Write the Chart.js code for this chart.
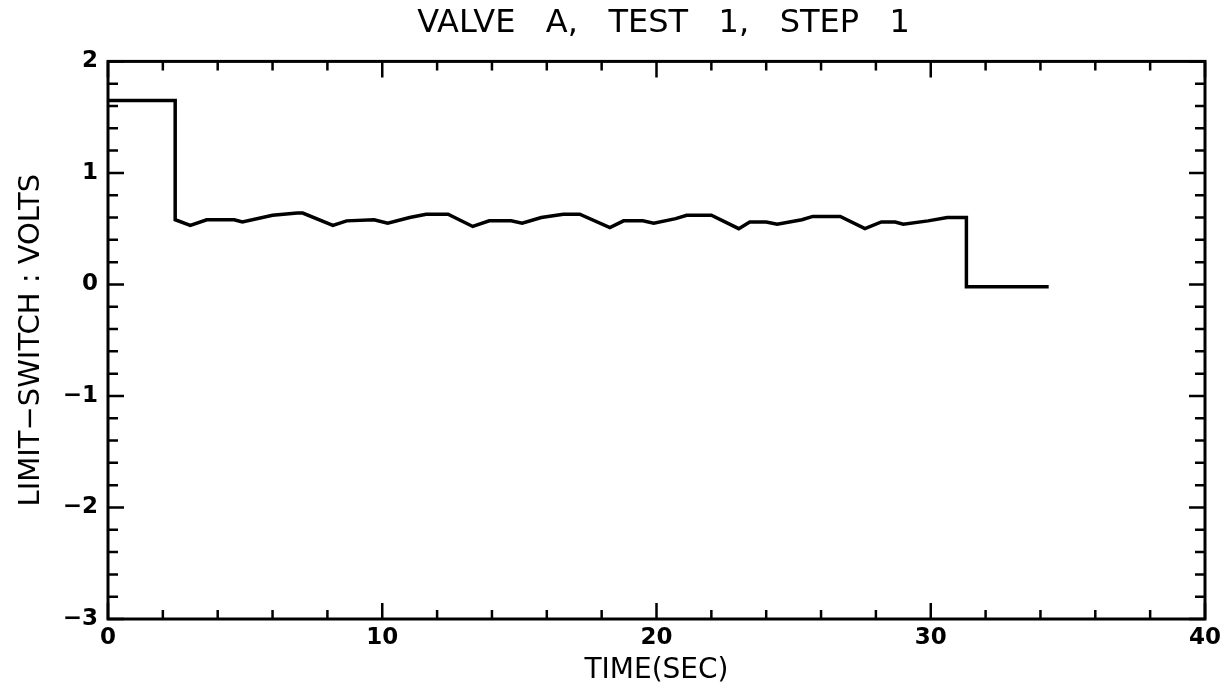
<!DOCTYPE html>
<html>
<head>
<meta charset="utf-8">
<script src="https://cdn.jsdelivr.net/npm/chart.js@4"></script>
<style>
  html, body { margin: 0; padding: 0; background: #fff; }
  #wrap { width: 1232px; height: 688px; }
</style>
</head>
<body>
<div id="wrap"><canvas id="valveChart" width="1232" height="688"></canvas></div>
<script>
// ---- data ----
const timeSec = [0, 2.45, 2.45, 3.0, 3.6, 4.6, 4.9, 6.0, 6.9, 7.1, 8.2, 8.7, 9.7, 10.2, 11.0, 11.6, 12.4, 13.3,
  13.9, 14.7, 15.1, 15.8, 16.6, 17.2, 18.3, 18.8, 19.5, 19.9, 20.7, 21.1, 22.0, 23.0, 23.4, 24.0, 24.4,
  25.3, 25.7, 26.7, 27.6, 28.2, 28.7, 29.0, 29.9, 30.6, 31.3, 31.3, 34.3];
const limitVolts = [1.65, 1.65, 0.58, 0.53, 0.58, 0.58, 0.56, 0.62, 0.64, 0.64, 0.53, 0.57, 0.58, 0.55, 0.60, 0.63, 0.63, 0.52,
  0.57, 0.57, 0.55, 0.60, 0.63, 0.63, 0.51, 0.57, 0.57, 0.55, 0.59, 0.62, 0.62, 0.50, 0.56, 0.56, 0.54,
  0.58, 0.61, 0.61, 0.50, 0.56, 0.56, 0.54, 0.57, 0.60, 0.60, -0.02, -0.02];
const xTicks = [0, 10, 20, 30, 40];
const yTicks = [-3, -2, -1, 0, 1, 2];
const xMinorStep = 2;
const yMinorStep = 0.2;

const FONT = "'DejaVu Sans', 'Liberation Sans', sans-serif";

// frame + inward ticks on all four sides
const frameTicks = {
  id: 'frameTicks',
  afterDraw(chart) {
    const { ctx, chartArea: a, scales } = chart;
    const xs = scales.x, ys = scales.y;
    ctx.save();
    ctx.strokeStyle = '#000';
    ctx.lineWidth = 3;
    ctx.strokeRect(a.left, a.top, a.right - a.left, a.bottom - a.top);
    ctx.lineWidth = 2.5;
    ctx.beginPath();
    for (let v = xs.min; v <= xs.max + 1e-9; v += xMinorStep) {
      const px = xs.getPixelForValue(v);
      const major = Math.abs(v % 10) < 1e-6;
      const len = major ? 16 : 9;
      ctx.moveTo(px, a.bottom); ctx.lineTo(px, a.bottom - len);
      ctx.moveTo(px, a.top); ctx.lineTo(px, a.top + len);
    }
    for (let i = 0; ys.min + i * yMinorStep <= ys.max + 1e-9; i++) {
      const v = ys.min + i * yMinorStep;
      const py = ys.getPixelForValue(v);
      const major = i % 5 === 0;
      const len = major ? 16 : 10;
      ctx.moveTo(a.left, py); ctx.lineTo(a.left + len, py);
      ctx.moveTo(a.right, py); ctx.lineTo(a.right - len, py);
    }
    ctx.stroke();
    ctx.restore();
  }
};

const points = timeSec.map((t, i) => ({ x: t, y: limitVolts[i] }));

new Chart(document.getElementById('valveChart').getContext('2d'), {
  type: 'line',
  data: {
    datasets: [{
      label: 'Limit switch',
      data: points,
      borderColor: '#000',
      borderWidth: 3.5,
      pointRadius: 0,
      tension: 0,
      fill: false
    }]
  },
  options: {
    responsive: false,
    animation: false,
    layout: { padding: { top: 0, right: 27, bottom: 0, left: 0 } },
    plugins: {
      legend: { display: false },
      tooltip: { enabled: false },
      title: {
        display: true,
        // leading spaces nudge the title right, as in the original plot
        text: '            VALVE   A,   TEST   1,   STEP   1',
        color: '#000',
        font: { family: FONT, size: 32, weight: 'normal' },
        padding: { top: 4, bottom: 19 }
      }
    },
    scales: {
      x: {
        type: 'linear',
        min: 0, max: 40,
        afterBuildTicks: s => { s.ticks = xTicks.map(v => ({ value: v })); },
        afterFit: s => { s.height = 69; },
        grid: { display: false, drawTicks: false },
        border: { display: false },
        ticks: { color: '#000', font: { family: FONT, size: 23, weight: 'bold' }, padding: 5, maxRotation: 0 },
        title: { display: true, text: 'TIME(SEC)', color: '#000', font: { family: FONT, size: 28 }, padding: { top: 0, bottom: 0 } }
      },
      y: {
        min: -3, max: 2,
        afterBuildTicks: s => { s.ticks = yTicks.map(v => ({ value: v })); },
        afterFit: s => { s.width = 108; },
        grid: { display: false, drawTicks: false },
        border: { display: false },
        ticks: {
          color: '#000', font: { family: FONT, size: 23, weight: 'bold' }, padding: 10,
          callback: v => (v < 0 ? '\u2212' + Math.abs(v) : String(v))
        },
        title: { display: true, text: 'LIMIT\u2212SWITCH : VOLTS', color: '#000', font: { family: FONT, size: 29 }, padding: { top: 14, bottom: 0 } }
      }
    }
  },
  plugins: [frameTicks]
});
</script>
</body>
</html>
